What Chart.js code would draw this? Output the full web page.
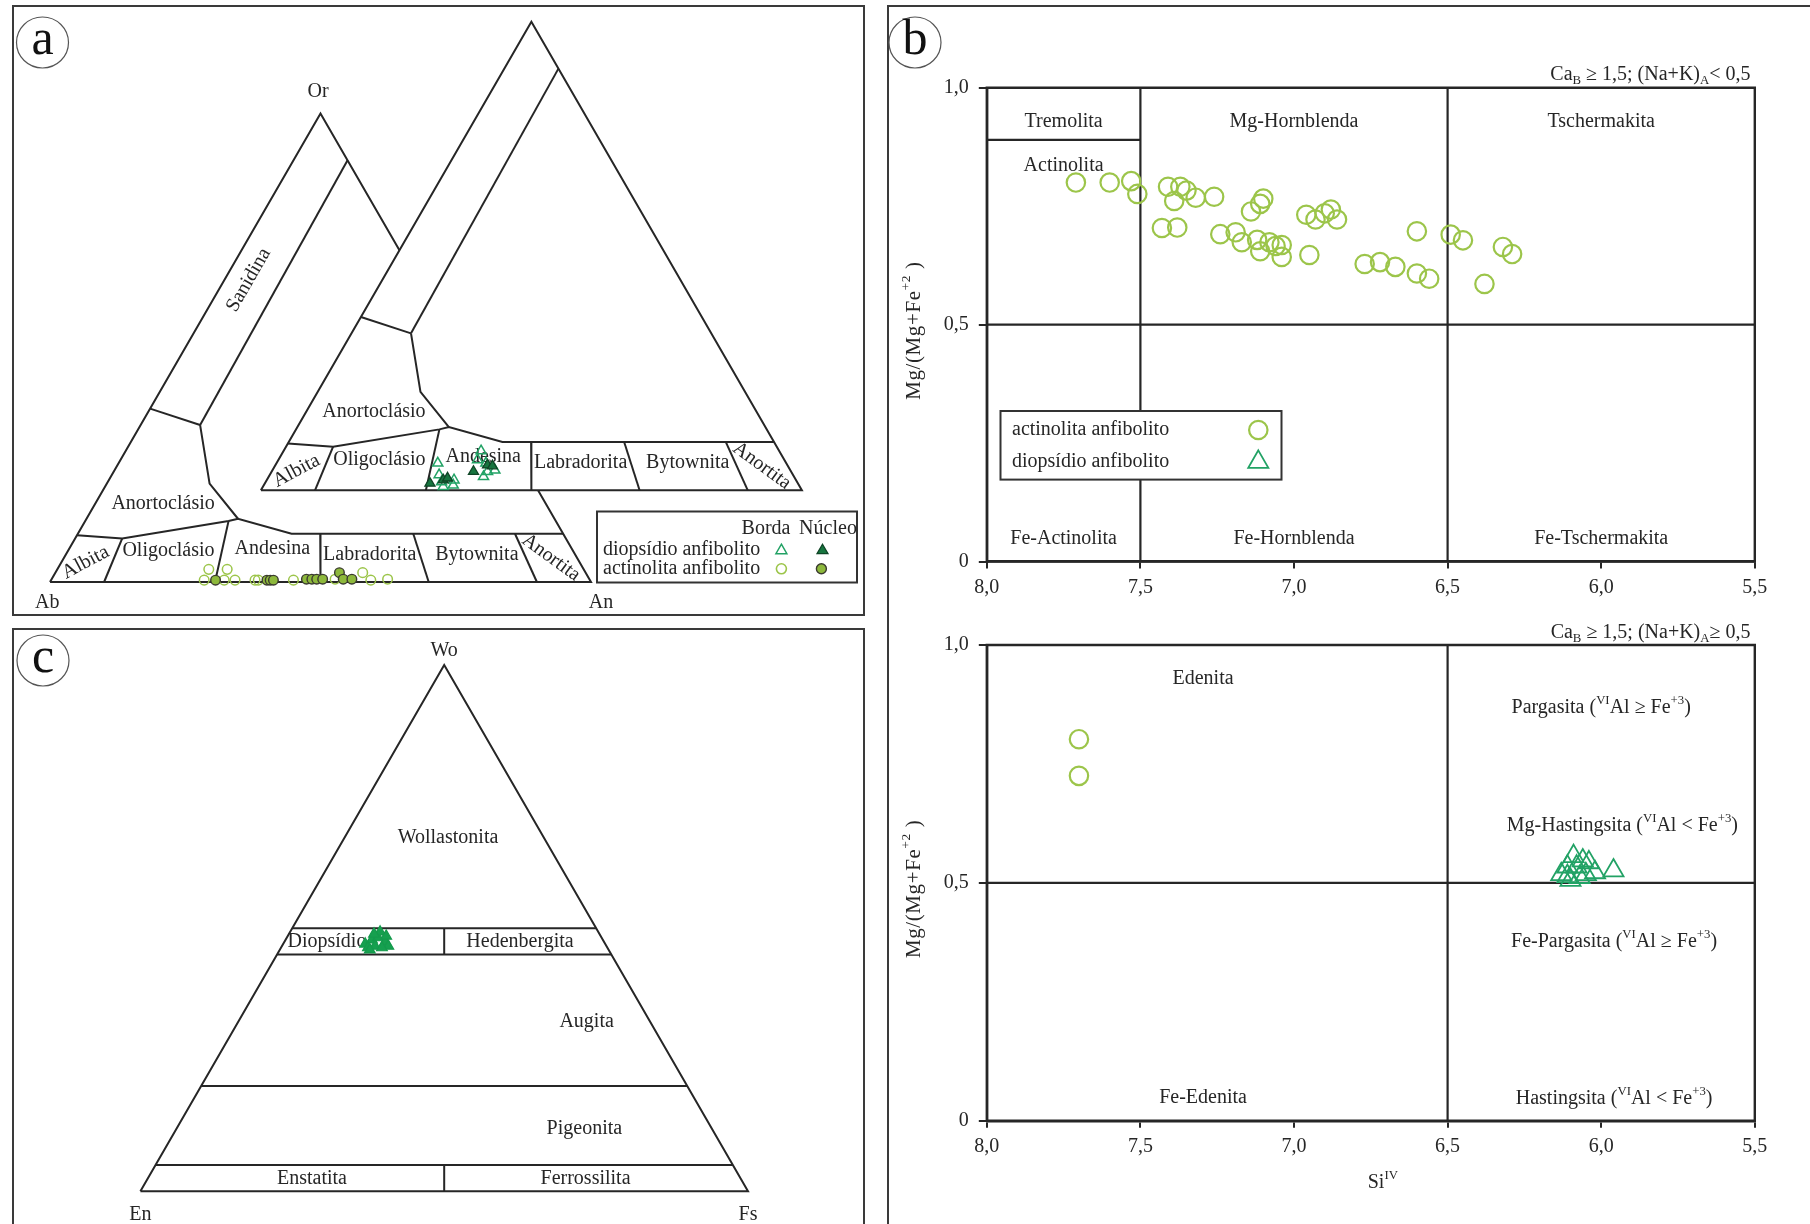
<!DOCTYPE html>
<html>
<head>
<meta charset="utf-8">
<script src="https://cdn.jsdelivr.net/npm/chart.js@4.4.1/dist/chart.umd.min.js"></script>
<style>
  html, body { margin: 0; padding: 0; background: #fff; }
  body { width: 1810px; height: 1224px; position: relative; overflow: hidden; }
  .frame { position: absolute; border: 2px solid #3a3a3a; box-sizing: border-box; }
  canvas { position: absolute; }
</style>
</head>
<body>
<div class="frame" style="left:12px;top:5px;width:853px;height:611px"></div>
<div class="frame" style="left:12px;top:628px;width:853px;height:700px"></div>
<div class="frame" style="left:887px;top:5px;width:1000px;height:1300px"></div>
<canvas id="pa" width="870" height="620" style="left:0;top:0"></canvas>
<canvas id="pc" width="870" height="604" style="left:0;top:620px"></canvas>
<canvas id="pb1" width="922" height="620" style="left:888px;top:0"></canvas>
<canvas id="pb2" width="922" height="604" style="left:888px;top:620px"></canvas>
<script>
// ---------- (a) feldspar compositions, mol % An and Or ----------
const actBordaAn  = [28.3, 28.0, 32.0, 31.4, 34.0, 37.7, 38.3, 44.8, 52.4, 56.8, 59.1, 62.1];
const actBordaOr  = [0.4, 2.7, 0.4, 2.7, 0.4, 0.4, 0.4, 0.4, 0.6, 2.0, 0.4, 0.6];
const actNucleoAn = [30.4, 39.9, 40.5, 41.1, 47.1, 48.1, 49.0, 50.1, 52.5, 53.9, 55.5];
const actNucleoOr = [0.4, 0.4, 0.4, 0.4, 0.6, 0.6, 0.6, 0.6, 2.0, 0.6, 0.6];
const diopBordaAn  = [29.8, 31.3, 33.3, 34.6, 35.0, 32.5, 36.5, 36.8, 38.7, 39.9, 39.7, 41.1];
const diopBordaOr  = [5.8, 3.3, 0.8, 2.2, 1.1, 1.8, 8.4, 6.5, 5.8, 4.0, 2.9, 4.3];
const diopNucleoAn = [30.5, 32.6, 33.2, 37.3, 39.2, 40.2];
const diopNucleoOr = [1.5, 2.2, 2.6, 4.0, 5.4, 5.2];

// feldspar field boundaries, [An, Or] in %
const feldOutline   = [[0, 0], [100, 0], [0, 100], [0, 0]];
const sanidinaLine  = [[10, 90], [11, 33.5]];
const anortoTopLine = [[0, 37], [11, 33.5]];
const anortoCurve   = [[11, 33.5], [19, 21], [28, 13.5]];
const plagTopLine   = [[0, 10], [8.7, 9.3], [26.5, 13], [28, 13.5], [39.5, 10.3], [89.7, 10.3]];
const plagDividers  = [
  [[8.7, 9.3], [10, 0]],
  [[26.5, 13], [30.5, 0]],
  [[44.8, 10.3], [50, 0]],
  [[62, 10.3], [70, 0]],
  [[80.8, 10.3], [90, 0]]
];

// ---------- (b) amphibole classification: Si (apfu) vs Mg/(Mg+Fe2+) ----------
const siTicks = [8.0, 7.5, 7.0, 6.5, 6.0, 5.5];
const mgTicks = [0, 0.5, 1.0];
const actSi = [7.71, 7.60, 7.53, 7.51, 7.41, 7.37, 7.35, 7.39, 7.32, 7.26, 7.10, 7.11, 7.14, 7.43,
               7.38, 7.24, 7.19, 7.17, 7.12, 7.11, 7.08, 7.06, 7.04, 7.04, 6.95, 6.96, 6.93, 6.90,
               6.88, 6.86, 6.77, 6.72, 6.67, 6.60, 6.56, 6.60, 6.49, 6.45, 6.32, 6.29, 6.38];
const actMg = [0.800, 0.800, 0.803, 0.776, 0.791, 0.791, 0.783, 0.761, 0.768, 0.770, 0.766, 0.755, 0.739, 0.704,
               0.705, 0.691, 0.695, 0.674, 0.679, 0.655, 0.674, 0.666, 0.668, 0.643, 0.647, 0.732, 0.722, 0.735,
               0.743, 0.722, 0.628, 0.632, 0.622, 0.608, 0.597, 0.697, 0.690, 0.678, 0.664, 0.649, 0.586];
const edenSi = [7.70, 7.70];
const edenMg = [0.802, 0.725];
const hastSi = [6.09, 6.11, 6.06, 6.04, 6.13, 6.02, 5.96, 6.10, 6.07, 6.05, 6.08, 6.11];
const hastMg = [0.556, 0.534, 0.547, 0.543, 0.518, 0.522, 0.526, 0.506, 0.512, 0.518, 0.534, 0.514];

// field boundaries, [Si, Mg#]
const ampBox = [[8, 0], [5.5, 0], [5.5, 1], [8, 1], [8, 0]];
const ampFieldsLowNaK = [
  [[7.5, 0], [7.5, 1]],
  [[6.5, 0], [6.5, 1]],
  [[8, 0.5], [5.5, 0.5]],
  [[8, 0.89], [7.5, 0.89]]
];
const ampFieldsHighNaK = [
  [[6.5, 0], [6.5, 1]],
  [[8, 0.5], [5.5, 0.5]]
];

// ---------- (c) pyroxene compositions, Wo and Fs % ----------
const cpxWo = [47.0, 47.8, 48.2, 47.4, 46.6, 46.3, 46.6, 49.3, 48.9, 46.3, 45.9, 48.5];
const cpxFs = [13.5, 14.2, 15.0, 16.6, 17.5, 14.3, 15.3, 14.8, 14.0, 16.6, 14.8, 16.2];
const pyxOutline = [[0, 0], [0, 100], [100, 0], [0, 0]];          // [Wo, Fs]
const pyxLines = [
  [[50, 0], [50, 50]],
  [[45, 0], [45, 55]],
  [[50, 25], [45, 27.5]],
  [[20, 0], [20, 80]],
  [[5, 0], [5, 95]],
  [[5, 47.5], [0, 50]]
];

// ---------- shared drawing helpers ----------
const FONT = '"Liberation Serif", "Times New Roman", Times, serif';
const INK = '#262626';
const LIGHT_GREEN = '#9cc54a';
const TRI_GREEN = '#22a265';
const H = Math.sqrt(3) / 2;

function richParts(str) {
  const parts = [];
  let i = 0, buf = '';
  while (i < str.length) {
    const c = str[i];
    if ((c === '^' || c === '_') && str[i + 1] === '{') {
      if (buf) { parts.push({ t: buf, k: 0 }); buf = ''; }
      const end = str.indexOf('}', i);
      parts.push({ t: str.slice(i + 2, end), k: c === '^' ? 1 : -1 });
      i = end + 1;
    } else { buf += c; i++; }
  }
  if (buf) parts.push({ t: buf, k: 0 });
  return parts;
}

function drawText(ctx, str, x, y, o = {}) {
  const size = o.size || 20;
  const parts = richParts(str);
  ctx.save();
  ctx.translate(x, y);
  if (o.rot) ctx.rotate(o.rot * Math.PI / 180);
  ctx.fillStyle = o.color || INK;
  ctx.textBaseline = 'middle';
  ctx.textAlign = 'left';
  if (o.spacing) ctx.letterSpacing = o.spacing + 'px';
  let w = 0;
  parts.forEach(p => {
    p.s = p.k ? size * 0.64 : size;
    ctx.font = p.s + 'px ' + FONT;
    p.w = ctx.measureText(p.t).width;
    w += p.w;
  });
  let cx = o.align === 'left' ? 0 : (o.align === 'right' ? -w : -w / 2);
  parts.forEach(p => {
    ctx.font = p.s + 'px ' + FONT;
    const dy = p.k === 1 ? -size * 0.36 : (p.k === -1 ? size * 0.3 : 0);
    ctx.fillText(p.t, cx, dy);
    cx += p.w;
  });
  ctx.restore();
}

function marker(ctx, style, x, y, r, fill, stroke, lw) {
  ctx.save();
  ctx.beginPath();
  if (style === 'triangle') {
    for (let k = 0; k < 3; k++) {
      const a = k * 2 * Math.PI / 3;
      const px = x + Math.sin(a) * r, py = y - Math.cos(a) * r;
      if (k === 0) ctx.moveTo(px, py); else ctx.lineTo(px, py);
    }
    ctx.closePath();
  } else {
    ctx.arc(x, y, r, 0, Math.PI * 2);
  }
  if (fill) { ctx.fillStyle = fill; ctx.fill(); }
  ctx.lineWidth = lw; ctx.strokeStyle = stroke; ctx.stroke();
  ctx.restore();
}

function panelLetter(ctx, letter, x, y) {
  ctx.save();
  ctx.beginPath();
  ctx.ellipse(x, y, 26, 25.5, 0, 0, Math.PI * 2);
  ctx.fillStyle = '#fff'; ctx.fill();
  ctx.lineWidth = 1.2; ctx.strokeStyle = '#555'; ctx.stroke();
  ctx.restore();
  drawText(ctx, letter, x, y - 2, { size: 50, color: '#111' });
}

function lineSet(points, extra) {
  return Object.assign({
    data: points, showLine: true, pointRadius: 0, borderColor: INK,
    borderWidth: 2, tension: 0, fill: false, clip: false
  }, extra || {});
}

const baseOpts = {
  responsive: false, animation: false, events: [],
  plugins: { legend: { display: false }, tooltip: { enabled: false } }
};

// ---------- (a) two feldspar triangles ----------
const TRI2 = { dx: 0.3898, dy: 0.1695 };
const NO_SHIFT = { dx: 0, dy: 0 };
function anOr(pts, s) { return pts.map(([an, or]) => ({ x: (an + or / 2) / 100 + s.dx, y: or * H / 100 + s.dy })); }
function anOrArr(an, or, s) { return an.map((v, i) => ({ x: (v + or[i] / 2) / 100 + s.dx, y: or[i] * H / 100 + s.dy })); }

function feldLines(s, order) {
  return [sanidinaLine, anortoTopLine, anortoCurve, plagTopLine].concat(plagDividers)
    .map(p => lineSet(anOr(p, s), { order }));
}

const feldLabelsBoth = [
  { t: 'Anortoclásio', x: 0.209, y: 0.1455 },
  { t: 'Albita', x: 0.066, y: 0.036, r: -28 },
  { t: 'Oligoclásio', x: 0.219, y: 0.057 },
  { t: 'Andesina', x: 0.411, y: 0.062 },
  { t: 'Labradorita', x: 0.591, y: 0.0512 },
  { t: 'Bytownita', x: 0.789, y: 0.0512 },
  { t: 'Anortita', x: 0.926, y: 0.045, r: 36 }
];
const feldLabelsFirst = [
  { t: 'Or', x: 0.4954, y: 0.9063 },
  { t: 'Ab', x: -0.0052, y: -0.0388 },
  { t: 'An', x: 1.0185, y: -0.0388 },
  { t: 'Sanidina', x: 0.3671, y: 0.5582, r: -60 }
];

const feldDatasets = []
  .concat([lineSet(anOr(feldOutline, NO_SHIFT), { order: 30 })])
  .concat(feldLines(NO_SHIFT, 30))
  .concat([lineSet(anOr(feldOutline, TRI2), { order: 20, fill: 'shape', backgroundColor: '#ffffff' })])
  .concat(feldLines(TRI2, 10))
  .concat([{ data: [{ x: 0, y: 0 }], pointRadius: 0, order: 5, labelHook: true }])
  .concat([
    { data: anOrArr(actBordaAn, actBordaOr, NO_SHIFT), order: 2, pointStyle: 'circle', pointRadius: 4.8,
      pointBorderWidth: 1.5, pointBorderColor: LIGHT_GREEN, pointBackgroundColor: 'rgba(255,255,255,0)', clip: false },
    { data: anOrArr(actNucleoAn, actNucleoOr, NO_SHIFT), order: 1, pointStyle: 'circle', pointRadius: 4.8,
      pointBorderWidth: 1.4, pointBorderColor: '#3b3b30', pointBackgroundColor: '#8db83c', clip: false },
    { data: anOrArr(diopBordaAn, diopBordaOr, TRI2), order: 2, pointStyle: 'triangle', pointRadius: 5.8,
      pointBorderWidth: 1.5, pointBorderColor: TRI_GREEN, pointBackgroundColor: 'rgba(255,255,255,0)', clip: false },
    { data: anOrArr(diopNucleoAn, diopNucleoOr, TRI2), order: 1, pointStyle: 'triangle', pointRadius: 5.8,
      pointBorderWidth: 1.3, pointBorderColor: '#0f4526', pointBackgroundColor: '#17753f', clip: false }
  ]);

const feldLabelPlugin = {
  id: 'feldLabels',
  afterDatasetDraw(chart, args) {
    if (!chart.data.datasets[args.index].labelHook) return;
    const ctx = chart.ctx, sx = chart.scales.x, sy = chart.scales.y;
    const put = (l, s) => drawText(ctx, l.t, sx.getPixelForValue(l.x + s.dx), sy.getPixelForValue(l.y + s.dy), { rot: l.r || 0 });
    feldLabelsFirst.forEach(l => put(l, NO_SHIFT));
    feldLabelsBoth.forEach(l => { put(l, NO_SHIFT); put(l, TRI2); });
  },
  afterDraw(chart) {
    const ctx = chart.ctx;
    panelLetter(ctx, 'a', 42.5, 42.5);
    // legend box
    ctx.save();
    ctx.lineWidth = 2; ctx.strokeStyle = '#333';
    ctx.strokeRect(597, 511.5, 260, 71);
    ctx.restore();
    drawText(ctx, 'Borda', 766, 529);
    drawText(ctx, 'Núcleo', 828, 529);
    drawText(ctx, 'diopsídio anfibolito', 603, 549.6, { align: 'left' });
    drawText(ctx, 'actinolita anfibolito', 603, 568.8, { align: 'left' });
    marker(ctx, 'triangle', 781.4, 550.5, 6.3, null, TRI_GREEN, 1.5);
    marker(ctx, 'triangle', 822.5, 550.5, 6.3, '#17753f', '#0f4526', 1.3);
    marker(ctx, 'circle', 781.4, 568.8, 5, null, LIGHT_GREEN, 1.6);
    marker(ctx, 'circle', 821.4, 568.8, 5, '#8db83c', '#3b3b30', 1.4);
  }
};

new Chart(document.getElementById('pa'), {
  type: 'scatter',
  data: { datasets: feldDatasets },
  options: Object.assign({}, baseOpts, {
    layout: { padding: 0, autoPadding: false },
    scales: {
      x: { type: 'linear', display: false, min: -0.09242, max: 1.51571 },
      y: { type: 'linear', display: false, min: -0.07024, max: 1.07579 }
    }
  }),
  plugins: [feldLabelPlugin]
});

// ---------- (c) pyroxene quadrilateral ----------
function woFs(pts) { return pts.map(([wo, fs]) => ({ x: (fs + wo / 2) / 100, y: wo * H / 100 })); }
const pyxLabels = [
  { t: 'Wo', x: 0.4997, y: 0.8896 },
  { t: 'Wollastonita', x: 0.5063, y: 0.5821 },
  { t: 'Diopsídio', x: 0.2421, y: 0.411, a: 'left' },
  { t: 'Hedenbergita', x: 0.6248, y: 0.411 },
  { t: 'Augita', x: 0.7344, y: 0.2796 },
  { t: 'Pigeonita', x: 0.7307, y: 0.1034 },
  { t: 'Enstatita', x: 0.2824, y: 0.0211 },
  { t: 'Ferrossilita', x: 0.7326, y: 0.0211 },
  { t: 'En', x: 0, y: -0.038 },
  { t: 'Fs', x: 1.0, y: -0.038 }
];
const pyxPlugin = {
  id: 'pyxLabels',
  beforeDatasetsDraw(chart) {
    const ctx = chart.ctx, sx = chart.scales.x, sy = chart.scales.y;
    pyxLabels.forEach(l => drawText(ctx, l.t, sx.getPixelForValue(l.x), sy.getPixelForValue(l.y), { align: l.a }));
  },
  afterDraw(chart) { panelLetter(chart.ctx, 'c', 43, 40.5); }
};
new Chart(document.getElementById('pc'), {
  type: 'scatter',
  data: {
    datasets: [lineSet(woFs(pyxOutline))]
      .concat(pyxLines.map(p => lineSet(woFs(p))))
      .concat([{
        data: cpxWo.map((w, i) => ({ x: (cpxFs[i] + w / 2) / 100, y: w * H / 100 })),
        pointStyle: 'triangle', pointRadius: 6.2, pointBorderWidth: 1.2,
        pointBorderColor: '#149a4c', pointBackgroundColor: '#16a04f', order: -1, clip: false
      }])
  },
  options: Object.assign({}, baseOpts, {
    layout: { padding: 0, autoPadding: false },
    scales: {
      x: { type: 'linear', display: false, min: -0.23107, max: 1.20079 },
      y: { type: 'linear', display: false, min: -0.05382, max: 0.94026 }
    }
  }),
  plugins: [pyxPlugin]
});

// ---------- (b) amphibole diagrams ----------
const fmtComma = v => (v === 0 ? '0' : Number(v).toFixed(1).replace('.', ','));
function xy(pts) { return pts.map(([x, y]) => ({ x, y })); }

function ampChart(id, cfg) {
  const plugin = {
    id: 'ampLabels' + id,
    beforeDatasetsDraw(chart) {
      const ctx = chart.ctx, sx = chart.scales.x, sy = chart.scales.y, ca = chart.chartArea;
      cfg.labels.forEach(l => drawText(ctx, l.t, sx.getPixelForValue(l.x), sy.getPixelForValue(l.y)));
      drawText(ctx, cfg.subtitle, 862.5, cfg.subY, { align: 'right' });
      drawText(ctx, 'Mg/(Mg+Fe^{+2} )', 26, (ca.top + ca.bottom) / 2 + 6, { rot: -90, size: 21, spacing: 0.6 });
    },
    afterDraw(chart) {
      if (cfg.after) cfg.after(chart.ctx, chart);
    }
  };
  const datasets = [lineSet(xy(ampBox), { borderWidth: 2.4, clip: false })]
    .concat(cfg.fields.map(f => lineSet(xy(f), { borderWidth: 2.2 })))
    .concat(cfg.points);
  return new Chart(document.getElementById(id), {
    type: 'scatter',
    data: { datasets },
    options: Object.assign({}, baseOpts, {
      layout: { padding: { left: 0, top: cfg.padTop, right: 55.2, bottom: 0 }, autoPadding: false },
      scales: {
        x: {
          type: 'linear', reverse: true, min: 5.5, max: 8.0,
          afterFit: a => { a.height = cfg.xH; },
          afterBuildTicks: a => { a.ticks = siTicks.map(v => ({ value: v })); },
          ticks: { callback: fmtComma, font: { family: FONT, size: 20 }, color: INK, padding: 7, maxRotation: 0, autoSkip: false },
          grid: { display: true, drawOnChartArea: false, drawTicks: true, tickLength: 7, color: INK, lineWidth: 2 },
          border: { display: true, color: INK, width: 2.4 }
        },
        y: {
          type: 'linear', min: 0, max: 1,
          afterFit: a => { a.width = 98.8; },
          afterBuildTicks: a => { a.ticks = mgTicks.map(v => ({ value: v })); },
          ticks: { callback: fmtComma, font: { family: FONT, size: 20 }, color: INK, padding: 10, autoSkip: false },
          grid: { display: true, drawOnChartArea: false, drawTicks: true, tickLength: 8, color: INK, lineWidth: 2 },
          border: { display: true, color: INK, width: 2.4 }
        }
      }
    }),
    plugins: [plugin]
  });
}

const circleStyle = {
  pointStyle: 'circle', pointRadius: 9.2, pointBorderWidth: 2.2,
  pointBorderColor: LIGHT_GREEN, pointBackgroundColor: 'rgba(255,255,255,0)', clip: false, order: -1
};
const triStyle = {
  pointStyle: 'triangle', pointRadius: 11.6, pointBorderWidth: 1.8,
  pointBorderColor: TRI_GREEN, pointBackgroundColor: 'rgba(255,255,255,0)', clip: false, order: -1
};

ampChart('pb1', {
  padTop: 87.8, xH: 58.5, subY: 75,
  subtitle: 'Ca_{B} ≥ 1,5; (Na+K)_{A}< 0,5',
  fields: ampFieldsLowNaK,
  labels: [
    { t: 'Tremolita', x: 7.75, y: 0.928 },
    { t: 'Mg-Hornblenda', x: 7.0, y: 0.928 },
    { t: 'Tschermakita', x: 6.0, y: 0.928 },
    { t: 'Actinolita', x: 7.75, y: 0.835 },
    { t: 'Fe-Actinolita', x: 7.75, y: 0.0486 },
    { t: 'Fe-Hornblenda', x: 7.0, y: 0.0486 },
    { t: 'Fe-Tschermakita', x: 6.0, y: 0.0486 }
  ],
  points: [Object.assign({ data: actSi.map((v, i) => ({ x: v, y: actMg[i] })) }, circleStyle)],
  after(ctx) {
    panelLetter(ctx, 'b', 27, 42.5);
    ctx.save();
    ctx.lineWidth = 2; ctx.strokeStyle = '#333'; ctx.fillStyle = '#fff';
    ctx.fillRect(112.5, 411, 281, 68.6);
    ctx.strokeRect(112.5, 411, 281, 68.6);
    ctx.restore();
    drawText(ctx, 'actinolita anfibolito', 124, 429.5, { align: 'left' });
    drawText(ctx, 'diopsídio anfibolito', 124, 462, { align: 'left' });
    marker(ctx, 'circle', 370.3, 430, 9.2, null, LIGHT_GREEN, 2.2);
    marker(ctx, 'triangle', 370.3, 462, 11.6, null, TRI_GREEN, 1.8);
  }
});

ampChart('pb2', {
  padTop: 25, xH: 103.2, subY: 12.3,
  subtitle: 'Ca_{B} ≥ 1,5; (Na+K)_{A}≥ 0,5',
  fields: ampFieldsHighNaK,
  labels: [
    { t: 'Edenita', x: 7.296, y: 0.9296 },
    { t: 'Pargasita (^{VI}Al ≥ Fe^{+3})', x: 6.0, y: 0.868 },
    { t: 'Mg-Hastingsita (^{VI}Al < Fe^{+3})', x: 5.931, y: 0.6196 },
    { t: 'Fe-Pargasita (^{VI}Al ≥ Fe^{+3})', x: 5.958, y: 0.3766 },
    { t: 'Fe-Edenita', x: 7.296, y: 0.0488 },
    { t: 'Hastingsita (^{VI}Al < Fe^{+3})', x: 5.958, y: 0.0462 }
  ],
  points: [
    Object.assign({ data: edenSi.map((v, i) => ({ x: v, y: edenMg[i] })) }, circleStyle),
    Object.assign({ data: hastSi.map((v, i) => ({ x: v, y: hastMg[i] })) }, triStyle)
  ],
  after(ctx, chart) {
    const ca = chart.chartArea;
    drawText(ctx, 'Si^{IV}', (ca.left + ca.right) / 2 + 12, 562.4);
  }
});
</script>
</body>
</html>
